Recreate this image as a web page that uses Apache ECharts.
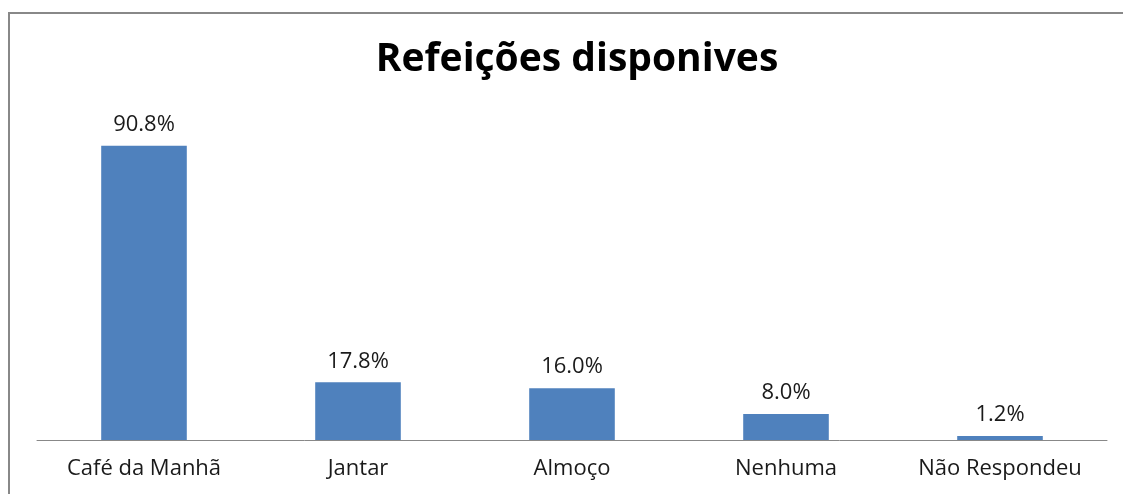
<!DOCTYPE html>
<html>
<head>
<meta charset="utf-8">
<script src="https://cdn.jsdelivr.net/npm/echarts@6/dist/echarts.min.js"></script>
<style>
  html, body { margin: 0; padding: 0; background: #fff; }
  #chart { width: 1123px; height: 494px; }
</style>
</head>
<body>
<div id="chart"></div>
<script>
var categories = ['Café da Manhã', 'Jantar', 'Almoço', 'Nenhuma', 'Não Respondeu'];
var values = [90.8, 17.8, 16.0, 8.0, 1.2];

var chart = echarts.init(document.getElementById('chart'));

var option = {
    animation: false,
    backgroundColor: '#fff',
    title: {
        text: 'Refeições disponives',
        left: 572,
        textAlign: 'center',
        top: 35,
        textStyle: {
            fontFamily: 'Open Sans',
            fontWeight: 'bold',
            fontSize: 39,
            color: '#000'
        }
    },
    graphic: [{
        type: 'rect',
        shape: { x: 9, y: 13, width: 1130, height: 500 },
        style: { fill: 'none', stroke: '#888', lineWidth: 2 },
        silent: true
    }],
    grid: {
        left: 37,
        right: 16,
        top: 116,
        bottom: 54
    },
    xAxis: {
        type: 'category',
        data: categories,
        axisLine: { show: true, lineStyle: { color: '#888', width: 1 } },
        axisTick: { show: false },
        axisLabel: {
            fontFamily: 'Open Sans',
            fontSize: 22,
            color: '#1a1a1a',
            margin: 18
        }
    },
    yAxis: {
        type: 'value',
        min: 0,
        max: 100,
        show: false,
        splitLine: { show: false }
    },
    series: [{
        type: 'bar',
        data: values,
        barWidth: '40%',
        itemStyle: { color: '#4F81BD' },
        label: {
            show: true,
            position: 'top',
            distance: 10,
            fontFamily: 'Open Sans',
            fontSize: 22,
            color: '#1a1a1a',
            formatter: function (p) { return p.value.toFixed(1) + '%'; }
        }
    }]
};

chart.setOption(option);
</script>
</body>
</html>
